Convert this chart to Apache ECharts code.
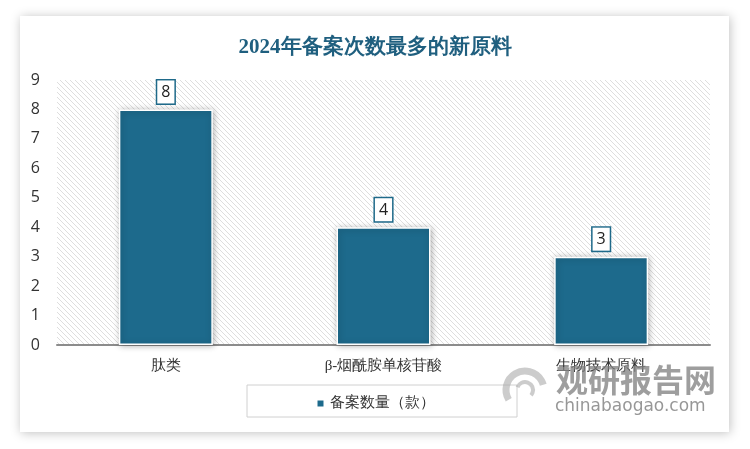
<!DOCTYPE html>
<html><head><meta charset="utf-8">
<script src="https://cdn.jsdelivr.net/npm/echarts@6/dist/echarts.min.js"></script>
<style>html,body{margin:0;padding:0;background:#fff}#c{width:750px;height:449px}</style>
</head><body><div id="c"></div>
<script>
var categories = ['肽类', 'β-烟酰胺单核苷酸', '生物技术原料'];
var counts = [8, 4, 3];
var seriesName = '备案数量（款）';
var titleText = '2024年备案次数最多的新原料';

function hatch() {
  var c = document.createElement('canvas');
  c.width = 5; c.height = 5;
  var g = c.getContext('2d');
  g.fillStyle = '#ffffff'; g.fillRect(0, 0, 5, 5);
  g.strokeStyle = '#dedede'; g.lineWidth = 1;
  g.beginPath();
  g.moveTo(0, 0); g.lineTo(5, 5);
  g.moveTo(-3, 2); g.lineTo(3, 8);
  g.moveTo(2, -3); g.lineTo(8, 3);
  g.stroke();
  return c;
}

var chart = echarts.init(document.getElementById('c'), null, {renderer: 'canvas'});
chart.setOption({
  backgroundColor: '#ffffff',
  animation: false,
  graphic: [
    {type: 'rect', z: -10, shape: {x: 20, y: 16, width: 709, height: 416},
     style: {fill: '#fff', shadowBlur: 10, shadowColor: 'rgba(0,0,0,0.25)', shadowOffsetX: 1, shadowOffsetY: 1}},
    {type: 'rect', z: 5, shape: {x: 247, y: 385, width: 270, height: 32},
     style: {fill: 'none', stroke: '#d0d0d0', lineWidth: 1}},
    {type: 'text', z: 20, left: 556, top: 364,
     style: {text: '观研报告网', font: 'bold 32px "Noto Sans CJK SC"', fill: 'rgba(125,125,125,0.75)'}},
    {type: 'text', z: 20, left: 555, top: 398,
     style: {text: 'chinabaogao.com', font: '17px "DejaVu Sans"', fill: 'rgba(125,125,125,0.8)'}},
    {type: 'arc', z: 20, shape: {cx: 525, cy: 390, r: 19, startAngle: 2.6, endAngle: 6.0},
     style: {stroke: 'rgba(170,170,170,0.6)', lineWidth: 7, fill: 'none'}},
    {type: 'arc', z: 20, shape: {cx: 525, cy: 390, r: 8, startAngle: 3.5, endAngle: 7.0},
     style: {stroke: 'rgba(170,170,170,0.6)', lineWidth: 4, fill: 'none'}}
  ],
  title: {
    text: titleText, left: 'center', top: 32,
    textStyle: {fontFamily: 'serif', fontSize: 21, fontWeight: 'bold', color: '#1f5f7f'}
  },
  grid: {left: 57, right: 40, top: 80, bottom: 104, show: true, borderWidth: 0,
    backgroundColor: {image: hatch(), repeat: 'repeat'}},
  legend: {
    data: [seriesName], top: 391, left: 'center', itemWidth: 8, itemHeight: 8, icon: 'rect',
    itemGap: 5, textStyle: {fontFamily: 'serif', fontSize: 15, color: '#333'}
  },
  xAxis: {
    type: 'category', data: categories,
    axisLine: {lineStyle: {color: '#8c8c8c', width: 2}},
    axisTick: {show: false},
    axisLabel: {margin: 14, fontFamily: 'serif', fontSize: 15, color: '#333'}
  },
  yAxis: {
    type: 'value', min: 0, max: 9, interval: 1,
    axisLine: {show: false}, axisTick: {show: false}, splitLine: {show: false},
    axisLabel: {margin: 17, fontFamily: '"Open Sans", sans-serif', fontSize: 16, color: '#333'}
  },
  series: [{
    name: seriesName, type: 'bar', data: counts, barWidth: 94,
    itemStyle: {color: '#1d6a8c', borderColor: '#ffffff', borderWidth: 1.5,
      shadowBlur: 6, shadowColor: 'rgba(0,0,0,0.3)', shadowOffsetX: 1, shadowOffsetY: 1},
    label: {
      show: true, position: 'top', distance: 6,
      fontFamily: '"Open Sans", sans-serif', fontSize: 16, color: '#222',
      backgroundColor: '#fff', borderColor: '#1f6a8a', borderWidth: 1.5,
      padding: [4, 4, 3, 4]
    }
  }]
});
</script></body></html>
